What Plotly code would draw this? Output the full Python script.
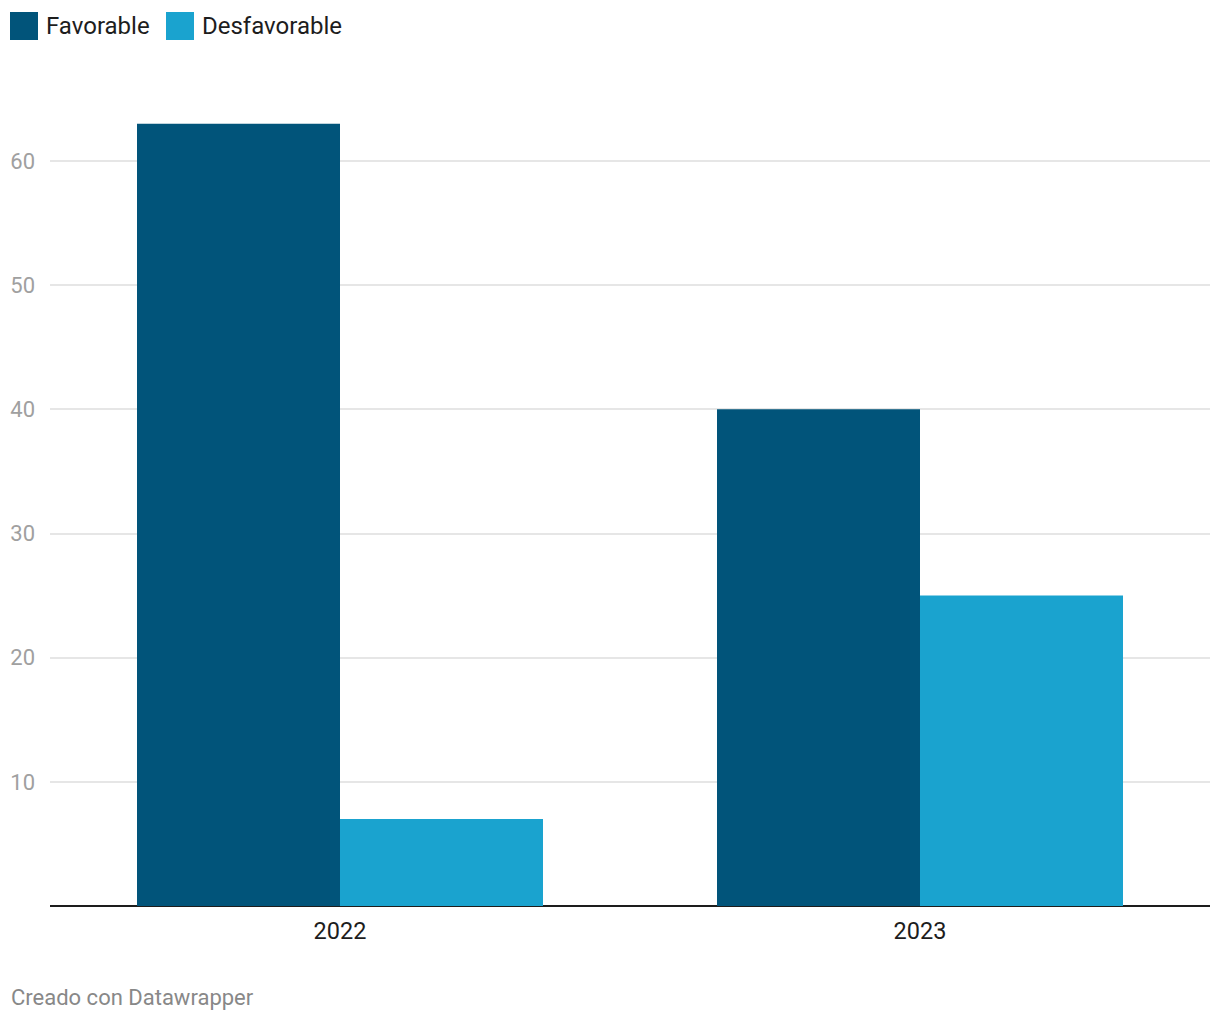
import plotly.graph_objects as go

years = ["2022", "2023"]
favorable = [63, 40]
desfavorable = [7, 25]
series_names = ["Favorable", "Desfavorable"]
colors = ["#01547a", "#1aa3cf"]
ytick_vals = [10, 20, 30, 40, 50, 60]

W, H = 1220, 1020
L, R, T, B = 50, 10, 86, 114
plot_w = W - L - R
plot_h = H - T - B

fig = go.Figure()
for name, vals, col in zip(series_names, [favorable, desfavorable], colors):
    fig.add_trace(go.Bar(x=years, y=vals, name=name, marker=dict(color=col, line=dict(width=0)),
                         showlegend=False, hoverinfo="x+y+name"))

def px2paper_x(px):
    return (px - L) / plot_w

def px2paper_y(py):
    return (H - B - py) / plot_h

# custom legend
legend_x = [10, 166]
shapes = []
annotations = []
for name, col, lx in zip(series_names, colors, legend_x):
    shapes.append(dict(type="rect", xref="paper", yref="paper",
                       x0=px2paper_x(lx), x1=px2paper_x(lx + 28),
                       y0=px2paper_y(40), y1=px2paper_y(12),
                       fillcolor=col, line=dict(width=0)))
    annotations.append(dict(text=name, xref="paper", yref="paper",
                            x=px2paper_x(lx + 34), y=px2paper_y(26),
                            xanchor="left", yanchor="middle", showarrow=False,
                            font=dict(family="Roboto", size=24, color="#1d1d1d")))

annotations.append(dict(text="Creado con Datawrapper", xref="paper", yref="paper",
                        x=px2paper_x(9), y=px2paper_y(997), xanchor="left", yanchor="middle",
                        showarrow=False, font=dict(family="Roboto", size=22, color="#888888")))

fig.update_layout(
    width=W, height=H,
    margin=dict(l=L, r=R, t=T, b=B),
    paper_bgcolor="white", plot_bgcolor="white",
    barmode="group", bargap=0.3, bargroupgap=0,
    font=dict(family="Roboto", size=20, color="#333333"),
    shapes=shapes, annotations=annotations,
    xaxis=dict(showgrid=False, zeroline=False, showline=False, ticks="",
               ticklabelstandoff=8,
               tickfont=dict(family="Roboto", size=23.5, color="#1d1d1d")),
    yaxis=dict(range=[0, plot_h / ((906 - 161) / 60)], tickvals=ytick_vals,
               showgrid=True, gridcolor="#e6e6e6", gridwidth=2,
               zeroline=True, zerolinecolor="#1d1d1d", zerolinewidth=2,
               showline=False, ticks="", ticklabelstandoff=14,
               tickfont=dict(family="Roboto", size=22, color="#a0a0a0")),
)

fig.write_html("out.html")
